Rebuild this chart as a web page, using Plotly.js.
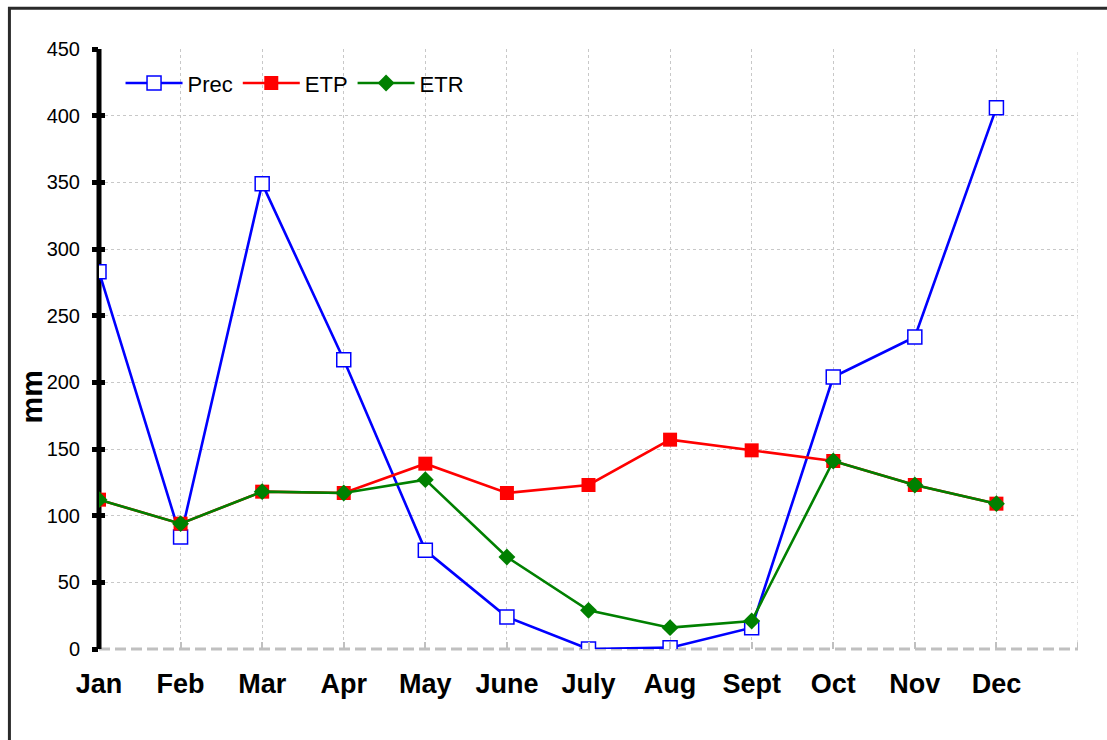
<!DOCTYPE html>
<html>
<head>
<meta charset="utf-8">
<script src="https://cdn.plot.ly/plotly-3.0.1.min.js"></script>
<style>
html,body{margin:0;padding:0;background:#fff;}
#chart{width:1107px;height:740px;}
</style>
</head>
<body>
<div id="chart"></div>
<script>
const months = ["Jan","Feb","Mar","Apr","May","June","July","Aug","Sept","Oct","Nov","Dec"];
const prec = [283, 84, 349, 217, 74, 24, 0, 1, 16, 204, 234, 406];
const etp  = [112, 94, 118, 117, 139, 117, 123, 157, 149, 141, 123, 109];
const etr  = [112, 94, 118, 117, 127, 69, 29, 16, 21, 141, 123, 109];
const yTicks = [0, 50, 100, 150, 200, 250, 300, 350, 400, 450];
const yTitle = "mm";

const FONT = "Arial, 'Liberation Sans', sans-serif";

const traces = [
  {x: months, y: prec, name: "Prec", type: "scatter", mode: "lines+markers",
   line: {color: "#0000ff", width: 2.6},
   marker: {symbol: "square", size: 14, color: "#ffffff", line: {color: "#0000ff", width: 1.5}}},
  {x: months, y: etp, name: "ETP", type: "scatter", mode: "lines+markers",
   line: {color: "#ff0000", width: 2.6},
   marker: {symbol: "square", size: 14, color: "#ff0000"}},
  {x: months, y: etr, name: "ETR", type: "scatter", mode: "lines+markers",
   line: {color: "#008000", width: 2.6},
   marker: {symbol: "diamond", size: 13, color: "#008000"}},
  {x: months, y: etr, yaxis: "y2", showlegend: false, hoverinfo: "skip",
   mode: "markers", marker: {opacity: 0}}
];

const layout = {
  width: 1107, height: 740,
  margin: {l: 99, r: 29, t: 49, b: 91},
  paper_bgcolor: "#ffffff", plot_bgcolor: "#ffffff",
  font: {family: FONT, color: "#000"},
  showlegend: true,
  legend: {orientation: "h", x: 0.022, y: 0.943, xanchor: "left", yanchor: "middle",
           font: {size: 22, color: "#000", family: FONT}, bgcolor: "rgba(0,0,0,0)",
           itemwidth: 57},
  xaxis: {type: "category", range: [0, 12], showgrid: true, gridcolor: "#c8c8c8",
          griddash: "dot", gridwidth: 1, ticks: "inside", ticklen: 7, tickwidth: 2,
          tickcolor: "#c0c0c0", showline: false, zeroline: false,
          tickfont: {size: 27, color: "#000", family: FONT, weight: "bold"},
          ticklabelstandoff: 16, fixedrange: true},
  yaxis: {range: [0, 450], tickvals: yTicks, showgrid: true, gridcolor: "#c8c8c8",
          griddash: "dot", gridwidth: 1, ticks: "outside", ticklen: 6, tickwidth: 5,
          tickcolor: "#000", showline: false, zeroline: false,
          tickfont: {size: 20, color: "#000", family: FONT}, ticklabelstandoff: 8},
  yaxis2: {range: [0, 450], tickvals: yTicks, overlaying: "y", side: "left",
           showticklabels: false, showgrid: false, zeroline: false, showline: false,
           ticks: "inside", ticklen: 6, tickwidth: 5, tickcolor: "#000"},
  annotations: [
    {text: yTitle, xref: "paper", yref: "paper", x: -0.069, y: 0.42,
     xanchor: "center", yanchor: "middle", textangle: -90, showarrow: false,
     font: {size: 30, color: "#000", weight: "bold", family: FONT}}
  ],
  shapes: [
    {type: "line", xref: "x", yref: "y", x0: 12, x1: 12, y0: 0, y1: 450,
     line: {color: "#c8c8c8", width: 1, dash: "dot"}, layer: "below"},
    {type: "line", xref: "x", yref: "y", x0: 12, x1: 12, y0: 0, y1: 5,
     line: {color: "#c0c0c0", width: 2}, layer: "below"},
    {type: "line", xref: "paper", yref: "paper", x0: 0, x1: 1, y0: 0, y1: 0,
     line: {color: "#c0c0c0", width: 3, dash: "11px,5px"}, layer: "below"},
    {type: "line", xref: "paper", yref: "paper", x0: 0, x1: 0, y0: 0, y1: 1,
     line: {color: "#000", width: 5}, layer: "below"},
    {type: "rect", xref: "paper", yref: "paper", x0: -0.0915, x1: 1.2, y0: -0.3, y1: 1.068,
     line: {color: "#2a2a2a", width: 3}, fillcolor: "rgba(0,0,0,0)", layer: "below"}
  ]
};

Plotly.newPlot("chart", traces, layout, {displayModeBar: false, staticPlot: true});
</script>
</body>
</html>
